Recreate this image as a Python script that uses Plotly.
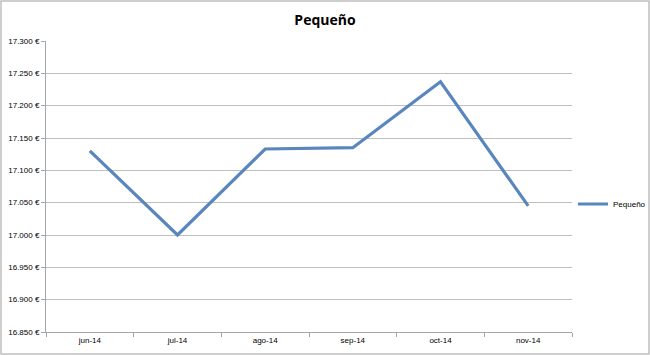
import plotly.graph_objects as go

months = ["jun-14", "jul-14", "ago-14", "sep-14", "oct-14", "nov-14"]
values = [17130, 17000, 17133, 17135, 17237, 17045]
tick_vals = [16850, 16900, 16950, 17000, 17050, 17100, 17150, 17200, 17250, 17300]
tick_text = ["16.850 €", "16.900 €", "16.950 €", "17.000 €", "17.050 €", "17.100 €",
             "17.150 €", "17.200 €", "17.250 €", "17.300 €"]

W, H = 650, 355
L, R, T, B = 46, 78, 41, 23

fig = go.Figure()
fig.add_trace(go.Scatter(
    x=months, y=values, mode="lines", name="Pequeño",
    line=dict(color="#5886BD", width=3.2),
))

pw = W - L - R
ph = H - T - B
fig.update_layout(
    width=W, height=H,
    margin=dict(l=L, r=R, t=T, b=B, autoexpand=False),
    paper_bgcolor="white", plot_bgcolor="white",
    font=dict(family="Liberation Sans, Arial, sans-serif", color="#000000"),
    title=dict(text="<b>Pequeño</b>", x=0.5, xanchor="center", y=1 - 20 / H, yanchor="middle",
               font=dict(size=14, family="Open Sans, Liberation Sans, sans-serif")),
    showlegend=True,
    legend=dict(x=1 + 1 / pw, y=1 - (204 - T) / ph, xanchor="left", yanchor="middle",
                font=dict(size=8), bgcolor="rgba(0,0,0,0)", itemwidth=30),
    xaxis=dict(
        type="category", showgrid=False, showline=True, linecolor="#A6A6A6", linewidth=1,
        ticks="outside", tickson="boundaries", ticklen=4, tickcolor="#A6A6A6",
        tickfont=dict(size=8), range=[-0.5, 5.5], fixedrange=True,
    ),
    yaxis=dict(
        range=[16850, 17300], tickvals=tick_vals, ticktext=tick_text,
        showgrid=True, gridcolor="#BFBFBF", gridwidth=1,
        showline=True, linecolor="#A6A6A6", linewidth=1,
        ticks="outside", ticklen=4, tickcolor="#A6A6A6",
        tickfont=dict(size=8), zeroline=False, fixedrange=True,
    ),
)

# outer chart border
fig.add_shape(type="rect", xref="paper", yref="paper",
              x0=-(L - 1) / pw, x1=1 + (R - 1) / pw, y0=-(B - 1) / ph, y1=1 + (T - 1) / ph,
              line=dict(color="#BFBFBF", width=1.5), fillcolor="rgba(0,0,0,0)", layer="below")

fig.write_html("out.html")
